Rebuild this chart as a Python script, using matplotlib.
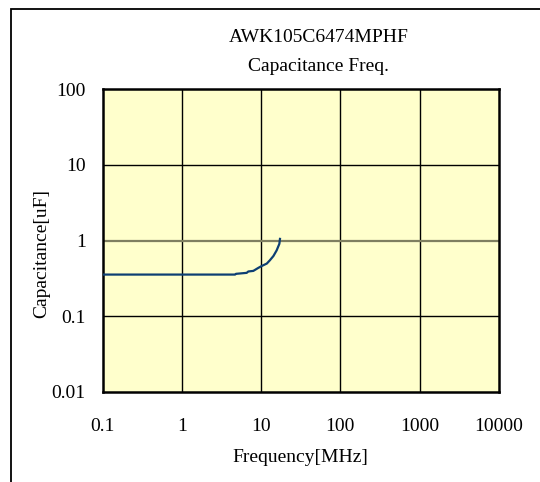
import matplotlib.pyplot as plt
from matplotlib.patches import Rectangle

# measured curve (MHz, uF)
freq = [0.1, 1.0, 4.7, 4.82, 6.58, 6.9, 7.98, 9.22, 10.2, 11.8, 12.9, 14.3, 15.7, 17.0, 17.3]
cap = [0.355, 0.355, 0.355, 0.363, 0.374, 0.39, 0.397, 0.435, 0.461, 0.496, 0.548, 0.624, 0.74, 0.905, 1.05]

x_ticks = [0.1, 1, 10, 100, 1000, 10000]
x_labels = ['0.1', '1', '10', '100', '1000', '10000']
y_ticks = [0.01, 0.1, 1, 10, 100]
y_labels = ['0.01', '0.1', '1', '10', '100']

plt.rcParams['font.family'] = ['Liberation Serif', 'DejaVu Serif']

fig = plt.figure(figsize=(5.4, 4.82), dpi=100)
ax = fig.add_axes([102.5 / 540, 90 / 482, (499 - 102.5) / 540, (392 - 89) / 482])
ax.set_facecolor('#FFFFCC')

# outer frame around the chart
fig.patches.append(Rectangle((11 / 540, -0.1), 1.2, 1.1 - 8.7 / 482, transform=fig.transFigure,
                             fill=False, edgecolor='black', linewidth=1.3))

ax.set_xscale('log')
ax.set_yscale('log')
ax.set_xlim(0.1, 10000)
ax.set_ylim(0.01, 100)

for v in x_ticks[1:-1]:
    ax.axvline(v, color='black', linewidth=1.0, zorder=1)
for v in y_ticks[1:-1]:
    c = '#7f7f60' if v == 1 else 'black'
    ax.axhline(v, color=c, linewidth=1.6 if v == 1 else 1.0, zorder=1)

ax.plot(freq, cap, color='#0d3f73', linewidth=1.6, zorder=3)

ax.set_xticks(x_ticks)
ax.set_xticklabels(x_labels)
ax.set_yticks(y_ticks)
ax.set_yticklabels(y_labels)
ax.minorticks_off()
ax.tick_params(length=0, labelsize=14)
ax.tick_params(axis='y', pad=12)
ax.tick_params(axis='x', pad=19)

for s in ax.spines.values():
    s.set_linewidth(1.8)

ax.set_xlabel('Frequency[MHz]', fontsize=14, labelpad=10)
fig.text(42 / 540, 1 - 253 / 482, 'Capacitance[uF]', rotation=90,
         ha='center', va='center', fontsize=14)

fig.text(0.59, 1 - 38 / 482, 'AWK105C6474MPHF', ha='center', va='center', fontsize=14)
fig.text(0.59, 1 - 66.5 / 482, 'Capacitance Freq.', ha='center', va='center', fontsize=14)

fig.savefig('out.png', dpi=100)
